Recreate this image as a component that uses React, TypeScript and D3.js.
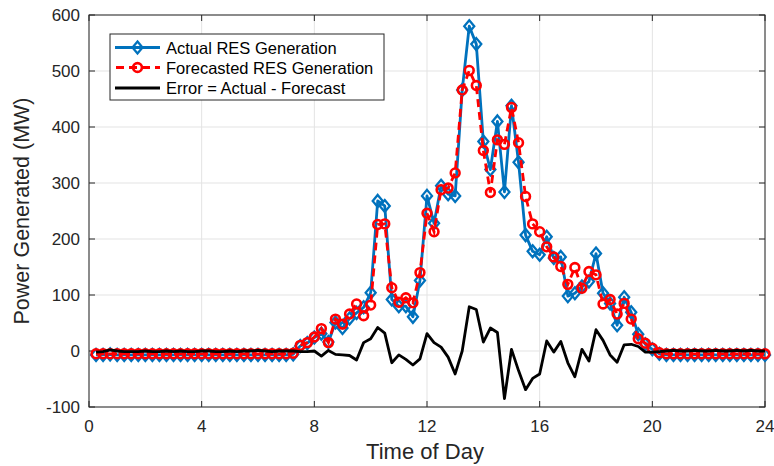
import React from "react";
import * as d3 from "d3";

// Time of day in hours (15-minute resolution)
const hours: number[] = d3.range(1, 97).map((k) => k * 0.25);

const actual: number[] = [
  -7, -7, -6, -7, -7, -7, -7, -7, -7, -7, -7, -7, -7, -7, -7, -7, -7, -7, -7, -7,
  -7, -7, -7, -7, -7, -7, -7, -7, -6,
  9, 14, 24, 31, 16, 51, 41, 58, 68, 78, 104,
  268, 259, 92, 80, 80, 61, 126, 277, 228, 295,
  280, 277, 466, 580, 548, 374, 324, 410, 284, 438,
  337, 207, 178, 172, 204, 166, 168, 98, 103, 115,
  124, 174, 103, 85, 46, 96, 69, 30, 12, 3,
  -5, -7, -7, -7, -7, -7, -7, -7, -7, -7, -7, -7, -7, -7, -7, -7,
];

const forecast: number[] = [
  -5, -5, -5, -5, -5, -5, -5, -5, -5, -5, -5, -5, -5, -5, -5, -5, -5, -5, -5, -5,
  -5, -5, -5, -5, -5, -5, -5, -5, -4,
  10, 15, 25, 40, 15, 57, 48, 66, 84, 63, 82,
  226, 227, 113, 87, 95, 86, 140, 246, 213, 288,
  291, 318, 466, 501, 474, 358, 283, 377, 369, 435,
  372, 276, 227, 213, 186, 168, 151, 119, 149, 112,
  142, 136, 84, 92, 66, 85, 57, 22, 14, 5,
  -3, -5, -5, -5, -5, -5, -5, -5, -5, -5, -5, -5, -5, -5, -5, -5,
];

const errorVals: number[] = [
  -2, -1, 2, 0, -1, -1, -1, 0, -1, -1, 0, -1, 0, -1, -1, 0, 0, -1, -1, 0,
  -1, 0, 0, 1, 0, -1, 0, 0, 0,
  -1, -1, 0, -9, 1, -6, -7, -8, -16, 15, 22,
  42, 32, -21, -7, -15, -25, -14, 31, 15, 7,
  -11, -41, 0, 79, 74, 16, 41, 33, -85, 3,
  -35, -69, -49, -41, 18, -2, 17, -21, -46, 3,
  -18, 38, 19, -7, -20, 11, 12, 8, -2, -2,
  -1, 0, 1, 0, 0, 1, 0, 0, 1, 0, 0, 1, 0, 1, 0, 0,
];

const xTicks: number[] = [0, 4, 8, 12, 16, 20, 24];
const yTicks: number[] = [-100, 0, 100, 200, 300, 400, 500, 600];

const seriesNames: string[] = [
  "Actual RES Generation",
  "Forecasted RES Generation",
  "Error = Actual - Forecast",
];

const BLUE = "#0072BD";
const RED = "#FF0000";
const FONT = "'Liberation Sans', Arial, Helvetica, sans-serif";

export default function App() {
  const W = 774;
  const H = 466;
  const left = 89;
  const right = 765;
  const top = 15;
  const bottom = 407;

  const x = d3.scaleLinear().domain([0, 24]).range([left, right]);
  const y = d3.scaleLinear().domain([-100, 600]).range([bottom, top]);

  const line = d3
    .line<[number, number]>()
    .x((d) => x(d[0]))
    .y((d) => y(d[1]));

  const aPts: [number, number][] = hours.map((h, i) => [h, actual[i]]);
  const fPts: [number, number][] = hours.map((h, i) => [h, forecast[i]]);
  const ePts: [number, number][] = hours.map((h, i) => [h, errorVals[i]]);

  const diamond = (cx: number, cy: number) =>
    `M${cx},${cy - 6}L${cx + 5},${cy}L${cx},${cy + 6}L${cx - 5},${cy}Z`;

  const tickLen = 6;
  const legX = 110;
  const legY = 34;
  const legW = 274;
  const legH = 66;
  const rows = [47.5, 67.5, 88];

  return (
    <svg
      width={W}
      height={H}
      style={{ position: "absolute", left: 0, top: 0, background: "#fff" }}
      fontFamily={FONT}
    >
      <rect x={0} y={0} width={W} height={H} fill="#fff" />
      {/* grid */}
      {xTicks.map((t) => (
        <line key={"gx" + t} x1={x(t)} x2={x(t)} y1={top} y2={bottom} stroke="#e3e3e3" strokeWidth={1} />
      ))}
      {yTicks.map((t) => (
        <line key={"gy" + t} x1={left} x2={right} y1={y(t)} y2={y(t)} stroke="#e3e3e3" strokeWidth={1} />
      ))}

      {/* axes box */}
      <rect x={left} y={top} width={right - left} height={bottom - top} fill="none" stroke="#262626" strokeWidth={1} />
      {xTicks.map((t) => (
        <g key={"tx" + t}>
          <line x1={x(t)} x2={x(t)} y1={bottom} y2={bottom - tickLen} stroke="#262626" />
          <line x1={x(t)} x2={x(t)} y1={top} y2={top + tickLen} stroke="#262626" />
          <text x={x(t)} y={432} textAnchor="middle" fontSize={17} fill="#262626">
            {t}
          </text>
        </g>
      ))}
      {yTicks.map((t) => (
        <g key={"ty" + t}>
          <line x1={left} x2={left + tickLen} y1={y(t)} y2={y(t)} stroke="#262626" />
          <line x1={right} x2={right - tickLen} y1={y(t)} y2={y(t)} stroke="#262626" />
          <text x={80} y={y(t) + 6} textAnchor="end" fontSize={17} fill="#262626">
            {t}
          </text>
        </g>
      ))}

      {/* axis labels */}
      <text x={425} y={459} textAnchor="middle" fontSize={22} fill="#262626">
        Time of Day
      </text>
      <text
        transform={`translate(29,${(top + bottom) / 2}) rotate(-90)`}
        textAnchor="middle"
        fontSize={21.5}
        fill="#262626"
      >
        Power Generated (MW)
      </text>

      {/* actual */}
      <path d={line(aPts) || ""} fill="none" stroke={BLUE} strokeWidth={2.8} strokeLinejoin="round" />
      {aPts.map((p, i) => (
        <path key={"a" + i} d={diamond(x(p[0]), y(p[1]))} fill="none" stroke={BLUE} strokeWidth={2.3} />
      ))}

      {/* forecast */}
      <path d={line(fPts) || ""} fill="none" stroke={RED} strokeWidth={2.8} strokeDasharray="8,5" />
      {fPts.map((p, i) => (
        <circle key={"f" + i} cx={x(p[0])} cy={y(p[1])} r={4.4} fill="none" stroke={RED} strokeWidth={2.6} />
      ))}

      {/* error */}
      <path d={line(ePts) || ""} fill="none" stroke="#000" strokeWidth={2.8} strokeLinejoin="round" />

      {/* legend */}
      <rect x={legX} y={legY} width={legW} height={legH} fill="#fff" stroke="#262626" strokeWidth={1} />
      <line x1={115} x2={160} y1={rows[0]} y2={rows[0]} stroke={BLUE} strokeWidth={2.8} />
      <path d={diamond(137.5, rows[0])} fill="none" stroke={BLUE} strokeWidth={2.3} />
      <line x1={115} x2={160} y1={rows[1]} y2={rows[1]} stroke={RED} strokeWidth={2.8} strokeDasharray="8,5" strokeDashoffset={-1} />
      <circle cx={137.5} cy={rows[1]} r={4.4} fill="none" stroke={RED} strokeWidth={2.6} />
      <line x1={115} x2={160} y1={rows[2]} y2={rows[2]} stroke="#000" strokeWidth={2.8} />
      {seriesNames.map((n, i) => (
        <text key={n} x={166} y={rows[i] + 6} fontSize={16.5} fill="#000">
          {n}
        </text>
      ))}
    </svg>
  );
}
